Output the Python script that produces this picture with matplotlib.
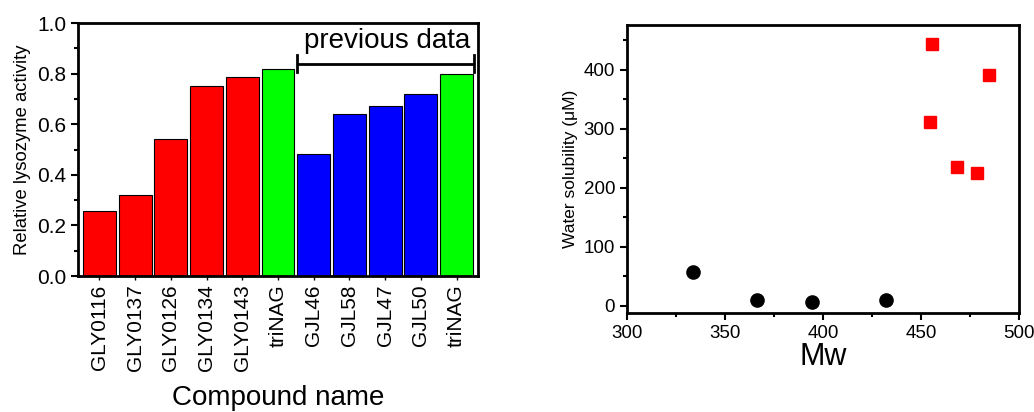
import matplotlib
matplotlib.use("Agg")
import matplotlib.pyplot as plt
from matplotlib.ticker import MultipleLocator

plt.rcParams['font.family'] = ['Liberation Sans', 'DejaVu Sans']

compounds = ["GLY0116", "GLY0137", "GLY0126", "GLY0134", "GLY0143", "triNAG",
             "GJL46", "GJL58", "GJL47", "GJL50", "triNAG"]
activity = [0.256, 0.322, 0.540, 0.751, 0.788, 0.819, 0.484, 0.640, 0.673, 0.720, 0.797]
bar_colors = ["#ff0000"] * 5 + ["#00ff00"] + ["#0000ff"] * 4 + ["#00ff00"]

mw_black = [333.5, 366.3, 394.5, 432.1]
sol_black = [58, 10, 7, 10]
mw_red = [455.8, 454.6, 468.5, 478.4, 484.5]
sol_red = [444, 312, 235, 226, 392]

fig = plt.figure(figsize=(10.34, 4.12), dpi=100)

# Left: bar chart
ax1 = fig.add_axes([0.0754, 0.330, 0.3869, 0.614])
x = list(range(len(compounds)))
ax1.bar(x, activity, width=0.92, color=bar_colors, edgecolor="black", linewidth=0.8)
ax1.set_xlim(-0.6, 10.6)
ax1.set_ylim(0, 1.0)
ax1.set_xticks(x)
ax1.set_xticklabels(compounds, rotation=90, fontsize=15)
ax1.yaxis.set_major_locator(MultipleLocator(0.2))
ax1.yaxis.set_minor_locator(MultipleLocator(0.1))
ax1.tick_params(axis='y', which='major', direction='out', length=5, width=1.5, labelsize=15)
ax1.tick_params(axis='y', which='minor', direction='out', length=3, width=1.5)
ax1.tick_params(axis='x', which='major', direction='out', length=3, width=1.0, pad=3)
ax1.set_ylabel("Relative lysozyme activity", fontsize=13.3, labelpad=4)
ax1.set_xlabel("Compound name", fontsize=20, labelpad=10)
for s in ax1.spines.values():
    s.set_linewidth(2)

# bracket for "previous data"
by = 0.840
x0b, x1b = 5.53, 10.5
ax1.plot([x0b, x1b], [by, by], color="black", lw=2, solid_capstyle='butt')
ax1.plot([x0b, x0b], [by - 0.035, by + 0.035], color="black", lw=2)
ax1.plot([x1b, x1b], [by - 0.035, by + 0.035], color="black", lw=2)
ax1.text(8.06, 0.928, "previous data", fontsize=20, ha="center", va="center")

# Right: scatter
ax2 = fig.add_axes([0.6064, 0.2403, 0.3791, 0.699])
ax2.plot(mw_black, sol_black, 'o', color="black", markersize=9.5, linestyle='none')
ax2.plot(mw_red, sol_red, 's', color="#ff0000", markersize=8.5, linestyle='none')
ax2.set_xlim(300, 500)
ax2.set_ylim(-12, 476)
ax2.xaxis.set_major_locator(MultipleLocator(50))
ax2.xaxis.set_minor_locator(MultipleLocator(25))
ax2.yaxis.set_major_locator(MultipleLocator(100))
ax2.yaxis.set_minor_locator(MultipleLocator(50))
ax2.tick_params(which='major', direction='out', length=5, width=1.5, labelsize=13.5)
ax2.tick_params(which='minor', direction='out', length=3, width=1.5)
ax2.set_ylabel("Water solubility (\u03bcM)", fontsize=12.5, labelpad=4)
ax2.set_xlabel("Mw", fontsize=22, labelpad=0)
for s in ax2.spines.values():
    s.set_linewidth(2)

fig.savefig("out.png", dpi=100)
